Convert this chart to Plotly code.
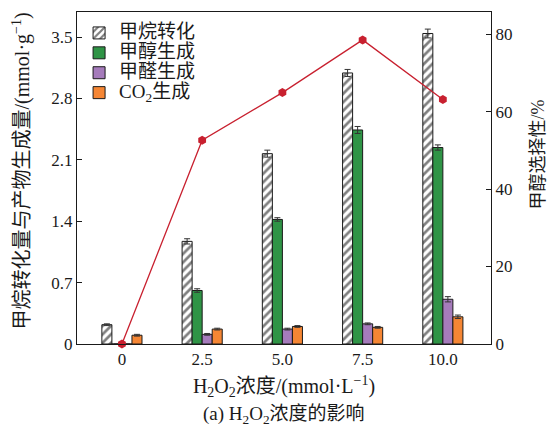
import plotly.graph_objects as go

# H2O2 concentration levels (mmol/L)
conc = ["0", "2.5", "5.0", "7.5", "10.0"]

# Amounts (mmol/g) with error estimates
ch4_conv = [0.22, 1.17, 2.17, 3.09, 3.54]
ch4_err = [0.01, 0.03, 0.04, 0.04, 0.05]
meoh = [0.0, 0.61, 1.42, 2.44, 2.24]
meoh_err = [0.0, 0.02, 0.02, 0.04, 0.03]
hcho = [0.0, 0.11, 0.17, 0.23, 0.51]
hcho_err = [0.0, 0.01, 0.01, 0.01, 0.03]
co2 = [0.10, 0.17, 0.20, 0.19, 0.31]
co2_err = [0.01, 0.01, 0.01, 0.01, 0.02]

# Methanol selectivity (%)
selectivity = [0, 52.6, 64.9, 78.5, 63.1]

names = ["甲烷转化", "甲醇生成", "甲醛生成", "CO<sub>2</sub>生成"]
left_title = "甲烷转化量与产物生成量/(mmol·g<sup>−1</sup>)"
right_title = "甲醇选择性/%"
x_title = "H<sub>2</sub>O<sub>2</sub>浓度/(mmol·L<sup>−1</sup>)"
caption = "(a) H<sub>2</sub>O<sub>2</sub>浓度的影响"

FONT = "Liberation Serif, Noto Sans CJK SC, serif"
INK = "#1a1a1a"
LEG_SIZE = 19


def leg(name):
    return f'<span style="font-size:{LEG_SIZE}px">{name}</span>'


def err(vals):
    return dict(type="data", array=vals, visible=True, color="#333333",
                thickness=1, width=3)


fig = go.Figure()

fig.add_trace(go.Bar(
    x=conc, y=ch4_conv, name=leg(names[0]), error_y=err(ch4_err),
    marker=dict(color="white", line=dict(color=INK, width=1),
                pattern=dict(shape="/", fgcolor="black", bgcolor="white",
                             size=6, solidity=0.45)),
))
fig.add_trace(go.Bar(
    x=conc, y=meoh, name=leg(names[1]), error_y=err(meoh_err),
    marker=dict(color="#2f9446", line=dict(color=INK, width=1)),
))
fig.add_trace(go.Bar(
    x=conc, y=hcho, name=leg(names[2]), error_y=err(hcho_err),
    marker=dict(color="#a57bbb", line=dict(color=INK, width=1)),
))
fig.add_trace(go.Bar(
    x=conc, y=co2, name=leg(names[3]), error_y=err(co2_err),
    marker=dict(color="#f58634", line=dict(color=INK, width=1)),
))

fig.add_trace(go.Scatter(
    x=conc, y=selectivity, yaxis="y2", mode="lines+markers",
    line=dict(color="#c8202f", width=1.3),
    marker=dict(color="#c8202f", size=9, symbol="hexagon"),
    showlegend=False, cliponaxis=False,
))

axis_line = dict(showline=True, linecolor=INK, linewidth=1)

fig.update_layout(
    width=547, height=430,
    margin=dict(l=77, r=56, t=12, b=86),
    paper_bgcolor="white", plot_bgcolor="white",
    font=dict(family=FONT, size=17, color=INK),
    barmode="group", bargap=0.5, bargroupgap=0,
    showlegend=True,
    legend=dict(x=0.005, y=0.982, xanchor="left", yanchor="top",
                bgcolor="rgba(0,0,0,0)", font=dict(size=13),
                itemclick=False),
    xaxis=dict(
        type="category", range=[-0.56, 4.6], showgrid=False,
        ticks="", mirror=True, **axis_line,
        tickfont=dict(size=17),
        title=dict(text=x_title, font=dict(size=20), standoff=10),
    ),
    yaxis=dict(
        range=[0, 3.785], tickvals=[0, 0.7, 1.4, 2.1, 2.8, 3.5],
        ticktext=["0", "0.7", "1.4", "2.1", "2.8", "3.5"],
        ticks="inside", ticklen=5, tickcolor=INK,
        showgrid=False, zeroline=False, **axis_line,
    ),
    yaxis2=dict(
        overlaying="y", side="right", range=[0, 85.7],
        tickvals=[0, 20, 40, 60, 80],
        ticks="inside", ticklen=5, tickcolor=INK,
        showgrid=False, zeroline=False, **axis_line,
    ),
)

# Vertical axis titles
fig.add_annotation(
    text=left_title, textangle=-90,
    xref="paper", yref="paper", x=-0.135, y=0.52,
    xanchor="center", yanchor="middle", showarrow=False,
    font=dict(size=20),
)
fig.add_annotation(
    text=right_title, textangle=-90,
    xref="paper", yref="paper", x=1.113, y=0.57,
    xanchor="center", yanchor="middle", showarrow=False,
    font=dict(size=18),
)

fig.add_annotation(
    text=caption,
    xref="paper", yref="paper", x=0.5, y=-0.215,
    xanchor="center", yanchor="middle", showarrow=False,
    font=dict(size=19),
)

fig.write_html("out.html")
